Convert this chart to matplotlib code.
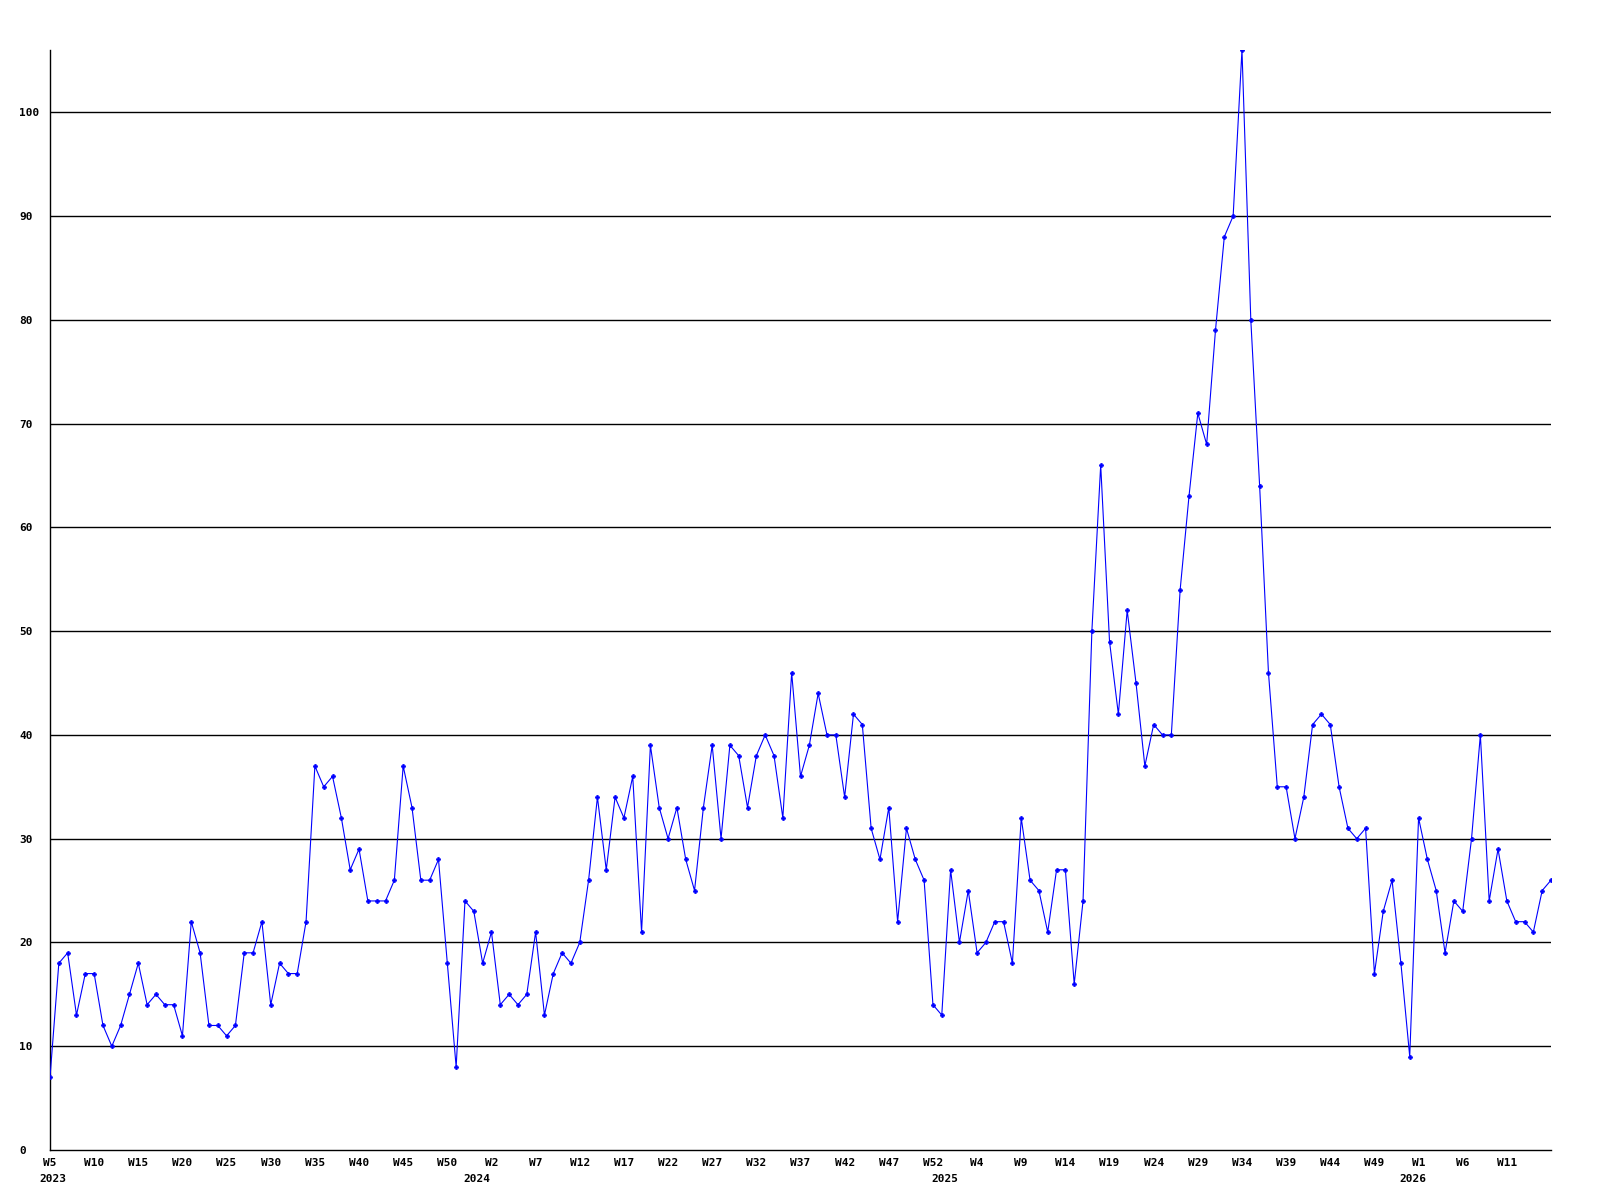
import numpy as np
import matplotlib
matplotlib.use("Agg")
import matplotlib.pyplot as plt

# weekly counts, 2023 W5 .. 2026 W16
values = [
    7, 18, 19, 13, 17, 17, 12, 10, 12, 15, 18, 14, 15, 14, 14, 11, 22, 19, 12, 12,
    11, 12, 19, 19, 22, 14, 18, 17, 17, 22, 37, 35, 36, 32, 27, 29, 24, 24, 24, 26,
    37, 33, 26, 26, 28, 18, 8, 24, 23, 18, 21, 14, 15, 14, 15, 21, 13, 17, 19, 18,
    20, 26, 34, 27, 34, 32, 36, 21, 39, 33, 30, 33, 28, 25, 33, 39, 30, 39, 38, 33,
    38, 40, 38, 32, 46, 36, 39, 44, 40, 40, 34, 42, 41, 31, 28, 33, 22, 31, 28, 26,
    14, 13, 27, 20, 25, 19, 20, 22, 22, 18, 32, 26, 25, 21, 27, 27, 16, 24, 50, 66,
    49, 42, 52, 45, 37, 41, 40, 40, 54, 63, 71, 68, 79, 88, 90, 106, 80, 64, 46, 35,
    35, 30, 34, 41, 42, 41, 35, 31, 30, 31, 17, 23, 26, 18, 9, 32, 28, 25, 19, 24,
    23, 30, 40, 24, 29, 24, 22, 22, 21, 25, 26,
]

# week number of each point (W0 = partial first week of the year)
weeks = (list(range(5, 53)) + [0] + list(range(1, 53)) + [0]
         + list(range(1, 53)) + [0] + list(range(1, 17)))
years = [2023] * 48 + [2024] * 53 + [2025] * 53 + [2026] * 17

x = np.arange(len(values))

fig = plt.figure(figsize=(16, 12), dpi=100)
ax = fig.add_axes([50 / 1600, 1 - 1150 / 1200, 1501 / 1600, 1100 / 1200])

for v in range(10, 101, 10):
    ax.axhline(v, color="black", lw=1.0, zorder=1)

ax.plot(x, values, color="#0000ff", lw=0.8, marker="P", ms=3.0,
        mec="#0000ff", mfc="#0000ff", mew=0.5, zorder=3)

ax.set_xlim(0, len(values) - 1)
ax.set_ylim(0, max(values))

for s in ["top", "right"]:
    ax.spines[s].set_visible(False)
for s in ["left", "bottom"]:
    ax.spines[s].set_color("black")
    ax.spines[s].set_linewidth(1.0)

font = dict(family="DejaVu Sans Mono", weight="bold", size=8)

ax.set_yticks(range(0, 101, 10))
ax.set_yticklabels([str(v) for v in range(0, 101, 10)], fontdict=font)
ax.tick_params(axis="y", length=0, pad=22.3)
for lab in ax.get_yticklabels():
    lab.set_horizontalalignment("left")

# a label every 5 weeks, none on the last point at the right edge
tick_pos = [i for i in x[::5] if i < x[-1]]
ax.set_xticks(tick_pos)
ax.set_xticklabels([f"W{weeks[i]}" for i in tick_pos], fontdict=font)
ax.tick_params(axis="x", length=0, pad=6)

# year labels under the first point of each year
seen = set()
for i, yr in enumerate(years):
    if yr in seen:
        continue
    seen.add(yr)
    ax.annotate(str(yr), xy=(i, 0), xycoords=("data", "axes fraction"),
                xytext=(2 if i == 0 else 2, -21), textcoords="offset points",
                ha="center", va="center", **font)

fig.savefig("out.png", dpi=100, facecolor="white")
